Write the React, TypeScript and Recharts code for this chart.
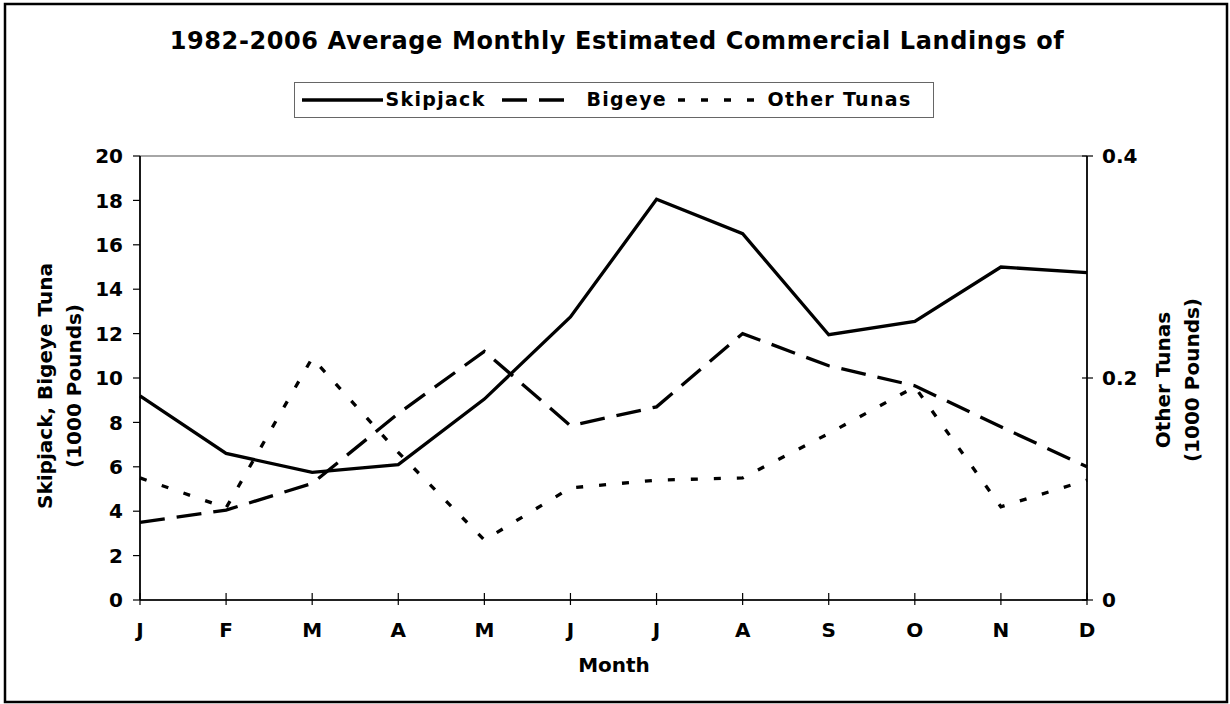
import React from 'react';
import { LineChart, Line, XAxis, YAxis, Legend, ReferenceLine } from 'recharts';

const months = ['J', 'F', 'M', 'A', 'M', 'J', 'J', 'A', 'S', 'O', 'N', 'D'];
const skipjack = [9.2, 6.6, 5.75, 6.1, 9.05, 12.75, 18.05, 16.5, 11.95, 12.55, 15.0, 14.75];
const bigeye = [3.5, 4.05, 5.25, 8.4, 11.2, 7.85, 8.7, 12.0, 10.55, 9.65, 7.8, 6.0];
const otherTunas = [0.11, 0.083, 0.218, 0.133, 0.054, 0.101, 0.108, 0.11, 0.15, 0.192, 0.084, 0.108];
const leftTicks = [0, 2, 4, 6, 8, 10, 12, 14, 16, 18, 20];
const rightTicks = [0, 0.2, 0.4];

const titleText = '1982-2006 Average Monthly Estimated Commercial Landings of';
const FONT = '"DejaVu Sans", Verdana, sans-serif';

const data = months.map((m, i) => ({
  idx: i,
  month: m,
  skipjack: skipjack[i],
  bigeye: bigeye[i],
  other: otherTunas[i],
}));

const series = [
  { key: 'skipjack', name: 'Skipjack', axis: 'left', dash: undefined as string | undefined },
  { key: 'bigeye', name: 'Bigeye', axis: 'left', dash: '25 12' },
  { key: 'other', name: 'Other Tunas', axis: 'right', dash: '7 16' },
];
// legend layout inside the box: [sampleStart, sampleEnd, textStart]
const legendSlots = [
  [8, 89, 92],
  [208, 281, 293],
  [384, 472, 474],
];

const XTick = (props: any) => {
  const { x, y, payload } = props;
  return (
    <g>
      <line x1={x} x2={x} y1={y - 30} y2={y - 18} stroke="#000" strokeWidth={1.2} />
      <text x={x} y={y} dy="0.71em" textAnchor="middle" fontFamily={FONT} fontWeight="bold" fontSize={20} fill="#000">
        {months[payload.value] ?? payload.value}
      </text>
    </g>
  );
};

const RightTick = (props: any) => {
  const { x, y, payload } = props;
  const v = payload.value;
  const label = v === 0 ? '0' : String(v);
  return (
    <g>
      <line x1={x - 20} x2={x - 9} y1={y} y2={y} stroke="#000" strokeWidth={1.2} />
      <text x={x} y={y} dy="0.355em" textAnchor="start" fontFamily={FONT} fontWeight="bold" fontSize={20} fill="#000">
        {label}
      </text>
    </g>
  );
};

const LeftAxisLabel = () => {
  const cy = 386;
  return (
    <g fontFamily={FONT} fontWeight="bold" fontSize={20} fill="#000">
      <text x={52} y={cy} textAnchor="middle" transform={`rotate(-90 52 ${cy})`}>
        Skipjack, Bigeye Tuna
      </text>
      <text x={81} y={cy} textAnchor="middle" transform={`rotate(-90 81 ${cy})`}>
        (1000 Pounds)
      </text>
    </g>
  );
};

const RightAxisLabel = () => {
  const cy = 380;
  return (
    <g fontFamily={FONT} fontWeight="bold" fontSize={20} fill="#000">
      <text x={1170} y={cy} textAnchor="middle" transform={`rotate(-90 1170 ${cy})`}>
        Other Tunas
      </text>
      <text x={1199} y={cy} textAnchor="middle" transform={`rotate(-90 1199 ${cy})`}>
        (1000 Pounds)
      </text>
    </g>
  );
};

const XAxisLabel = () => (
  <text x={614} y={672} textAnchor="middle" fontFamily={FONT} fontWeight="bold" fontSize={20} fill="#000">
    Month
  </text>
);

const LegendContent = () => (
  <div
    style={{
      position: 'relative',
      boxSizing: 'border-box',
      width: 640,
      height: 36,
      border: '1.5px solid #666',
      fontFamily: FONT,
      fontWeight: 'bold',
      fontSize: 19,
      letterSpacing: 1.3,
      color: '#000',
      background: '#fff',
    }}
  >
    {series.map((s, i) => {
      const [a, b, t] = legendSlots[i];
      return (
        <React.Fragment key={s.key}>
          <svg width={b - a} height={10} style={{ position: 'absolute', left: a - 1.5, top: 12 }}>
            <line x1={0} x2={b - a} y1={5} y2={5} stroke="#000" strokeWidth={3.5} strokeDasharray={s.dash} />
          </svg>
          <span style={{ position: 'absolute', left: t - 1.5, top: 4, lineHeight: '24px', whiteSpace: 'nowrap' }}>
            {s.name}
          </span>
        </React.Fragment>
      );
    })}
  </div>
);

export default function App() {
  return (
    <div style={{ position: 'absolute', left: 0, top: 0, width: 1230, height: 704, background: '#fff' }}>
      <svg width={1230} height={704} style={{ position: 'absolute', left: 0, top: 0 }}>
        <rect x={5} y={4} width={1222} height={698} fill="none" stroke="#000" strokeWidth={2.5} />
        <text
          x={617}
          y={49}
          textAnchor="middle"
          fontFamily={FONT}
          fontWeight="bold"
          fontSize={24}
          letterSpacing={0.6}
          fill="#000"
        >
          {titleText}
        </text>
      </svg>
      <div style={{ position: 'absolute', left: 0, top: 0 }}>
        <LineChart width={1230} height={704} data={data} margin={{ top: 156, right: 0, bottom: 0, left: 0 }}>
          <XAxis
            dataKey="idx"
            type="number"
            domain={[0, 11]}
            ticks={data.map((d) => d.idx)}
            interval={0}
            height={104}
            tickSize={8}
            tickMargin={15}
            tickLine={false}
            tick={<XTick />}
            axisLine={{ stroke: '#222', strokeWidth: 2 }}
            label={<XAxisLabel />}
          />
          <YAxis
            yAxisId="left"
            orientation="left"
            width={140}
            domain={[0, 20]}
            ticks={leftTicks}
            interval={0}
            tickSize={7}
            tickMargin={10}
            tickLine={{ stroke: '#000', strokeWidth: 1.2 }}
            axisLine={{ stroke: '#000', strokeWidth: 1.8 }}
            tick={{ fill: '#000', fontSize: 20, fontWeight: 'bold', fontFamily: FONT }}
            label={<LeftAxisLabel />}
          />
          <YAxis
            yAxisId="right"
            orientation="right"
            width={143}
            domain={[0, 0.4]}
            ticks={rightTicks}
            interval={0}
            tickSize={6}
            tickMargin={9}
            tickLine={false}
            tick={<RightTick />}
            axisLine={{ stroke: '#000', strokeWidth: 1.8 }}
            label={<RightAxisLabel />}
          />
          <ReferenceLine yAxisId="left" y={20} stroke="#888" strokeWidth={1.5} />
          <Legend
            layout="horizontal"
            verticalAlign="middle"
            align="center"
            content={<LegendContent />}
            wrapperStyle={{ top: 82, left: 294, width: 640, height: 36 }}
          />
          {series.map((s) => (
            <Line
              key={s.key}
              dataKey={s.key}
              name={s.name}
              yAxisId={s.axis}
              type="linear"
              stroke="#000"
              strokeWidth={3.3}
              strokeDasharray={s.dash}
              dot={false}
              activeDot={false}
              isAnimationActive={false}
            />
          ))}
        </LineChart>
      </div>
    </div>
  );
}
